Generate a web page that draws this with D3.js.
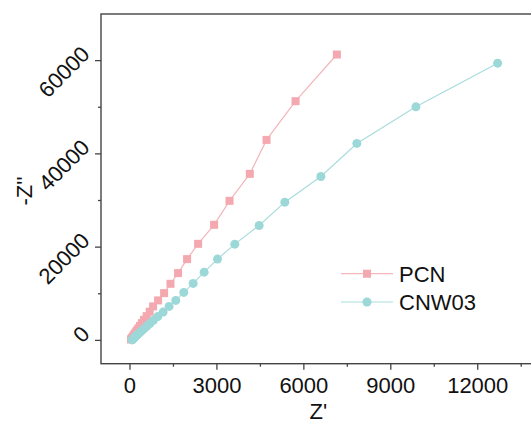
<!DOCTYPE html>
<html><head><meta charset="utf-8">
<script src="https://cdn.jsdelivr.net/npm/d3@7"></script>
<style>body{margin:0;background:#fff}svg{display:block}</style>
</head><body><svg id="c" width="531" height="426"></svg>
<script>
const seriesNames = ["PCN", "CNW03"];
const pcnZre = [36, 55, 76, 100, 128, 160, 198, 240, 290, 345, 410, 485, 575, 680, 798, 970, 1178, 1398, 1660, 1971, 2351, 2903, 3435, 4135, 4712, 5713, 7139];
const pcnZim = [190, 350, 550, 780, 1050, 1360, 1720, 2120, 2580, 3100, 3700, 4400, 5200, 6150, 7290, 8575, 10140, 12140, 14430, 17430, 20710, 24790, 29930, 35720, 43000, 51300, 61310];
const cnwZre = [75, 95, 120, 150, 185, 230, 280, 340, 410, 490, 580, 690, 810, 960, 1143, 1350, 1581, 1857, 2180, 2559, 3020, 3617, 4457, 5343, 6587, 7829, 9866, 12686];
const cnwZim = [100, 220, 380, 570, 800, 1060, 1360, 1700, 2080, 2520, 3030, 3620, 4300, 5100, 6070, 7290, 8570, 10290, 12220, 14640, 17430, 20640, 24650, 29650, 35160, 42240, 50090, 59450];
const xTicks = [0, 3000, 6000, 9000, 12000];
const xMinor = [1500, 4500, 7500, 10500, 13500];
const yTicks = [0, 20000, 40000, 60000];
const yMinor = [10000, 30000, 50000];

const colors = {PCN: "#f4a8af", CNW03: "#9dd8d8"};
const lineColors = {PCN: "#f3b6bb", CNW03: "#a9dcdc"};
const svg = d3.select("#c");
const L = 101, T = 14, B = 363.7, R = 535.7;
const x = d3.scaleLinear().domain([-1000, 14000]).range([L, R]);
const y = d3.scaleLinear().domain([-5000, 70000]).range([B, T]);
const font = "'Liberation Sans', Arial, sans-serif";
const axisCol = "#444";
const fs = 22;

svg.append("rect").attr("x", L).attr("y", T).attr("width", R - L).attr("height", B - T)
  .attr("fill", "none").attr("stroke", axisCol).attr("stroke-width", 1.4);

const xt = svg.append("g");
xTicks.forEach(v => xt.append("line").attr("x1", x(v)).attr("x2", x(v)).attr("y1", B).attr("y2", B + 6).attr("stroke", axisCol).attr("stroke-width", 1.3));
xMinor.forEach(v => xt.append("line").attr("x1", x(v)).attr("x2", x(v)).attr("y1", B).attr("y2", B + 3).attr("stroke", axisCol).attr("stroke-width", 1.3));
xTicks.forEach(v => xt.append("text").attr("x", x(v)).attr("y", 393).attr("text-anchor", "middle")
  .attr("font-family", font).attr("font-size", fs).attr("fill", "#111").text(v));
const yt = svg.append("g");
yTicks.forEach(v => yt.append("line").attr("x1", L - 6).attr("x2", L).attr("y1", y(v)).attr("y2", y(v)).attr("stroke", axisCol).attr("stroke-width", 1.3));
yMinor.forEach(v => yt.append("line").attr("x1", L - 3).attr("x2", L).attr("y1", y(v)).attr("y2", y(v)).attr("stroke", axisCol).attr("stroke-width", 1.3));
yTicks.forEach(v => yt.append("text").attr("transform", `translate(91,${y(v) - 5}) rotate(-45)`).attr("text-anchor", "end")
  .attr("font-family", font).attr("font-size", fs).attr("fill", "#111").text(v));

svg.append("text").attr("x", (L + R) / 2).attr("y", 419).attr("text-anchor", "middle")
  .attr("font-family", font).attr("font-size", fs).attr("fill", "#111").text("Z'");
svg.append("text").attr("transform", "translate(32,191) rotate(-90)").attr("text-anchor", "middle")
  .attr("font-family", font).attr("font-size", fs).attr("fill", "#111").text("-Z''");

const line = d3.line().x(d => x(d[0])).y(d => y(d[1]));
const pcn = pcnZre.map((v, i) => [v, pcnZim[i]]);
const cnw = cnwZre.map((v, i) => [v, cnwZim[i]]);

svg.append("path").datum(cnw).attr("d", line).attr("fill", "none").attr("stroke", lineColors.CNW03).attr("stroke-width", 1.2);
svg.append("path").datum(pcn).attr("d", line).attr("fill", "none").attr("stroke", lineColors.PCN).attr("stroke-width", 1.2);

svg.append("g").selectAll("rect").data(pcn).join("rect")
  .attr("x", d => x(d[0]) - 4).attr("y", d => y(d[1]) - 4).attr("width", 8).attr("height", 8).attr("fill", colors.PCN);
svg.append("g").selectAll("circle").data(cnw).join("circle")
  .attr("cx", d => x(d[0])).attr("cy", d => y(d[1])).attr("r", 4.5).attr("fill", colors.CNW03);

const lg = svg.append("g");
[["PCN", 273.7], ["CNW03", 302]].forEach(([name, ly]) => {
  lg.append("line").attr("x1", 341).attr("x2", 393).attr("y1", ly).attr("y2", ly).attr("stroke", lineColors[name]).attr("stroke-width", 1.2);
  if (name === "PCN") lg.append("rect").attr("x", 363).attr("y", ly - 4).attr("width", 8).attr("height", 8).attr("fill", colors[name]);
  else lg.append("circle").attr("cx", 367).attr("cy", ly).attr("r", 4.5).attr("fill", colors[name]);
  lg.append("text").attr("x", 399).attr("y", ly + 7.8).attr("font-family", font).attr("font-size", fs).attr("fill", "#111").text(name);
});
</script></body></html>
